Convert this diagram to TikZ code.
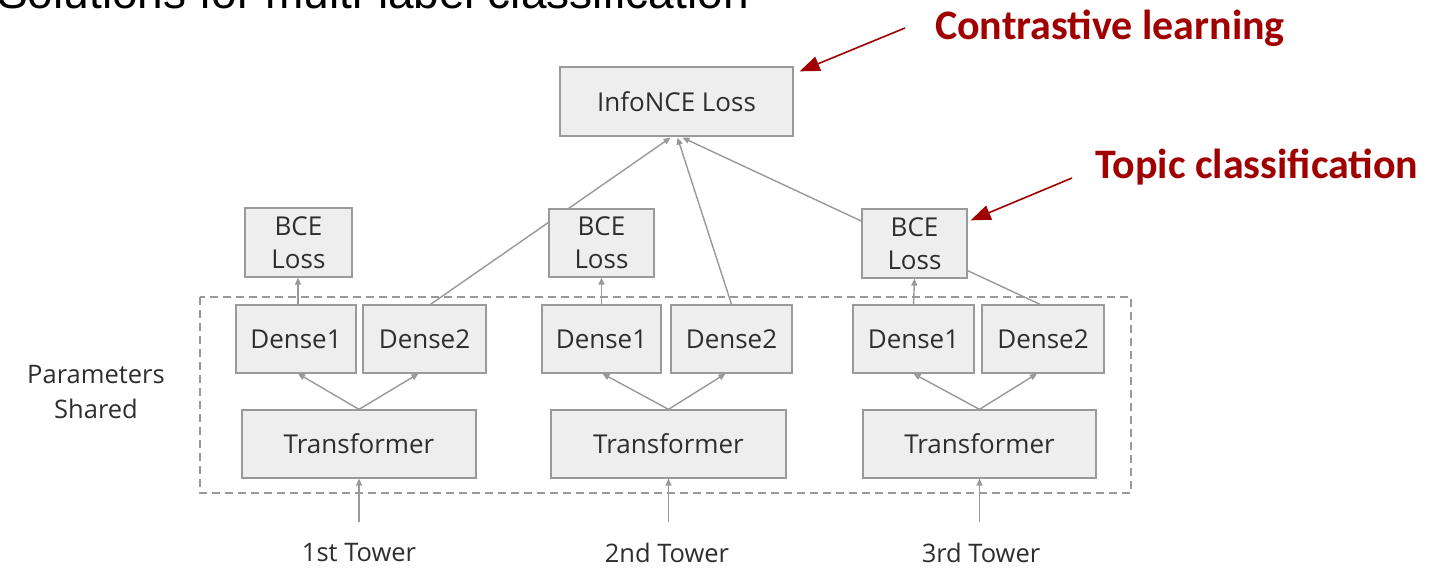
\documentclass[tikz,border=0pt]{standalone}
\usepackage{fontspec}
\setmainfont{Open Sans}
\newfontfamily\calfont{Carlito}
\newfontfamily\arialfont{Liberation Sans}
\usetikzlibrary{arrows.meta,calc,backgrounds}
\definecolor{boxfill}{HTML}{EEEEEE}
\definecolor{boxline}{HTML}{9A9A9A}
\definecolor{lineclr}{HTML}{999999}
\definecolor{txt}{HTML}{2E2E2E}
\definecolor{darkred}{HTML}{A00000}
\begin{document}
\begin{tikzpicture}[x=1pt,y=-1pt,
  box/.style={draw=boxline, fill=boxfill, line width=1.3pt, inner sep=0pt,
    font=\fontsize{26}{33}\selectfont, text=txt, align=center},
  conn/.style={draw=lineclr, line width=1.4pt, -{Triangle[length=7pt,width=6pt]}},
  redarr/.style={draw=darkred, line width=1.6pt, -{Triangle[length=20pt,width=15pt]}},
  redlabel/.style={text=darkred, font=\calfont\bfseries\fontsize{42}{46}\selectfont, inner sep=0pt},
  lbl/.style={text=txt, font=\fontsize{25.5}{35}\selectfont, align=center, inner sep=0pt},
  shared/.style={draw=lineclr, line width=1.3pt, dash pattern=on 8pt off 5pt}]
\useasboundingbox (0,0) rectangle (1444,568);
% clipped title
\begin{scope}
\clip (0,0) rectangle (1444,568);
\node[anchor=base west, inner sep=0pt, font=\arialfont\fontsize{46}{50}\selectfont] (title) at (-3,8) {Solutions for multi-label classification};
\end{scope}
% shared parameters region
\draw[shared] (200,297) rectangle (1131,493);
\node[lbl] (ps) at (96,392) {Parameters\\Shared};
% boxes
\node[box, minimum width=233pt, minimum height=69pt] (info) at (676.5,101.5) {InfoNCE Loss};
\node[box, minimum width=107pt, minimum height=69pt] (bce1) at (298.5,242.5) {BCE\\Loss};
\node[box, minimum width=105pt, minimum height=68pt] (bce2) at (601.5,243) {BCE\\Loss};
\node[box, minimum width=105pt, minimum height=69pt] (bce3) at (914.5,243.5) {BCE\\Loss};
\node[box, minimum width=120pt, minimum height=68pt] (d11) at (296,339) {Dense1};
\node[box, minimum width=123pt, minimum height=68pt] (d12) at (424.5,339) {Dense2};
\node[box, minimum width=119pt, minimum height=68pt] (d21) at (601.5,339) {Dense1};
\node[box, minimum width=121pt, minimum height=68pt] (d22) at (731.5,339) {Dense2};
\node[box, minimum width=121pt, minimum height=68pt] (d31) at (913.5,339) {Dense1};
\node[box, minimum width=122pt, minimum height=68pt] (d32) at (1043,339) {Dense2};
\node[box, minimum width=234pt, minimum height=68pt] (t1) at (359,444) {Transformer};
\node[box, minimum width=235pt, minimum height=68pt] (t2) at (668.5,444) {Transformer};
\node[box, minimum width=233pt, minimum height=68pt] (t3) at (979.5,444) {Transformer};
% tower labels
\node[lbl] (tw1) at (359,553) {1st Tower};
\node[lbl] (tw2) at (667,553) {2nd Tower};
\node[lbl] (tw3) at (981,553) {3rd Tower};
\coordinate (in1) at (359,522);
\coordinate (in2) at (668.5,522);
\coordinate (in3) at (979.5,522);
% connectors
\begin{scope}[on background layer]
\fill[white] (0,0) rectangle (1444,568);
\draw[conn] (in1) -- (t1.south);
\draw[conn] (in2) -- (t2.south);
\draw[conn] (in3) -- (t3.south);
\draw[conn] (t1.north) -- ($(d11.south)+(2,0)$);
\draw[conn] (t1.north) -- ($(d12.south)+(-6,0)$);
\draw[conn] (t2.north) -- ($(d21.south)+(1,0)$);
\draw[conn] (t2.north) -- ($(d22.south)+(-6,0)$);
\draw[conn] (t3.north) -- (d31.south);
\draw[conn] (t3.north) -- ($(d32.south)+(-6,0)$);
\draw[conn] ($(d11.north)+(2,0)$) -- ($(bce1.south)+(-0.5,0)$);
\draw[conn] (d21.north) -- (bce2.south);
\draw[conn] (d31.north) -- (bce3.south);
\draw[conn] ($(d12.north)+(6,0)$) -- ($(info.south)+(-6,1)$);
\draw[conn] (d22.north) -- ($(info.south)+(1,1)$);
\draw[conn] ($(d32.north)+(-3,0)$) -- ($(info.south)+(6,1)$);
\end{scope}
% annotations
\node[redlabel] (cl) at (1110,28) {Contrastive learning};
\node[redlabel] (tc) at (1257,167) {Topic classification};
\coordinate (cla) at (905,28);
\coordinate (tca) at (1072,178);
\draw[redarr] (cla) -- ($(info.north east)+(6,5)$);
\draw[redarr] (tca) -- ($(bce3.north east)+(3,12)$);
\end{tikzpicture}
\end{document}
